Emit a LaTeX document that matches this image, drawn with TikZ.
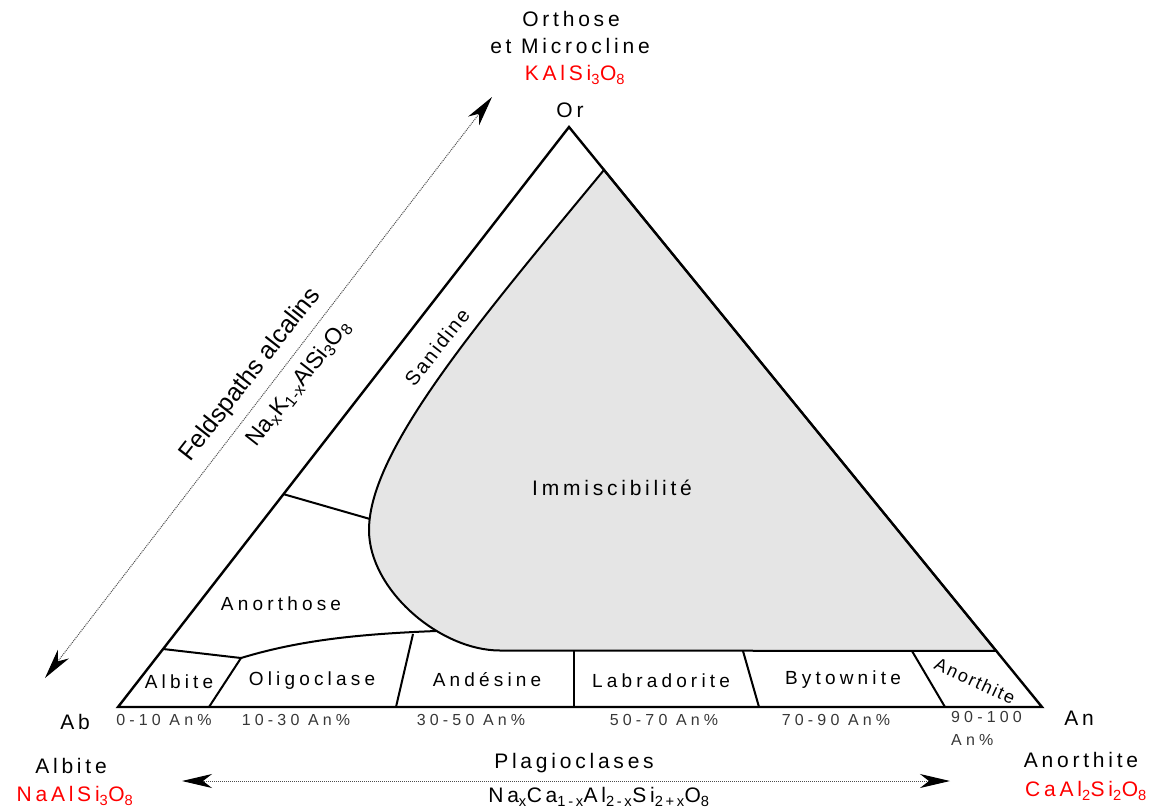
\documentclass[tikz,border=0pt]{standalone}
\usepackage{fontspec}
\setmainfont{Liberation Sans}
\newfontfamily\lsp[LetterSpace=18]{Liberation Sans}
\newfontfamily\lspc[LetterSpace=22]{Liberation Sans}
\newfontfamily\lspr[LetterSpace=26]{Liberation Sans}
\newfontfamily\lspb[LetterSpace=10]{Liberation Sans}
\usetikzlibrary{arrows.meta,calc}
\definecolor{fred}{RGB}{255,0,0}
\definecolor{fillgray}{RGB}{229,229,229}
\definecolor{rngc}{RGB}{55,55,55}
\newcommand\sbs[1]{\textsubscript{#1}}
\begin{document}
\begin{tikzpicture}[x=1pt,y=-1pt,
  edge/.style={line width=2.4pt, line join=miter},
  div/.style={line width=2pt},
  big/.style={font=\lsp\fontsize{21}{27}\selectfont, inner sep=0pt, align=center},
  cell/.style={font=\lspc\fontsize{19}{22}\selectfont, inner sep=0pt},
  rng/.style={font=\lspr\fontsize{16}{23}\selectfont, text=rngc, inner sep=0pt},
  dots/.style={line width=1pt, dash pattern=on 1pt off 1pt, draw=black!70},
  arr/.style={dots, {Stealth[length=30pt,width=14pt,inset=9pt,color=black]}-{Stealth[length=30pt,width=14pt,inset=9pt,color=black]}}
]
\useasboundingbox (0,0) rectangle (1163,807);

% vertices
\coordinate (Ab) at (118,707);
\coordinate (An) at (1042,707);
\coordinate (Or) at (569,127);
\coordinate (gT) at ($(An)!0.926!(Or)$);
\coordinate (gR) at ($(An)!0.0966!(Or)$);
\coordinate (gB) at (500,650.5);
\coordinate (gL) at (369,530);
\coordinate (lA) at ($(Ab)!0.1!(Or)$);
\coordinate (lS) at ($(Ab)!0.367!(Or)$);
\coordinate (kA) at (241,658);
\coordinate (kO) at (436,631);

% immiscibility region
\filldraw[fill=fillgray, div] (gT) -- (gR) -- (gB)
  .. controls (440,650.5) and (369,590) .. (gL)
  .. controls (369,450) and (480,320) .. (gT) -- cycle;

% region boundaries
\draw[div] (lA) -- (kA) .. controls (300,640) and (360,634) .. (kO);
\draw[div] (lS) -- (370,519);
\draw[div] (kA) -- (209,707);
\draw[div] (413,634) -- (396,707);
\draw[div] (574,650.5) -- (574,707);
\draw[div] (743,651) -- (759,707);
\draw[div] (912,651) -- (945,707);

% triangle
\draw[edge] (Ab) -- (An) -- (Or) -- cycle;

% arrows
\coordinate (fa1) at (45,678);
\coordinate (fa2) at (492,97);
\draw[arr] (fa1) -- (fa2);
\coordinate (pa1) at (182,781);
\coordinate (pa2) at (950,781);
\draw[arr] (pa1) -- (pa2);

% top labels
\node[big] (orth) at (571,19) {Orthose};
\node[big] (micr) at (570,46) {et Microcline};
\node[big, text=fred] (kals) at (575,75) {KAlSi\sbs{3}O\sbs{8}};
\node[big] (orl) at (570,110) {Or};

% corner labels
\node[big] (abl) at (75,722) {Ab};
\node[big] (anl) at (1079,718) {An};
\node[big] (albt) at (71,766) {Albite};
\node[big, text=fred] (naal) at (75,796) {NaAlSi\sbs{3}O\sbs{8}};
\node[big] (anth) at (1081,760) {Anorthite};
\node[big, text=fred] (caal) at (1086,791) {CaAl\sbs{2}Si\sbs{2}O\sbs{8}};

% alkali feldspars (two lines, one node)
\node[font=\fontsize{25}{43}\selectfont, inner sep=0pt, align=center, rotate=52] (feld) at (267,388)
  {Feldspaths alcalins\\{\fontsize{23}{43}\selectfont\hspace*{47pt}Na\sbs{x}K\sbs{1-x}AlSi\sbs{3}O\sbs{8}}};

% plagioclases
\node[big] (plag) at (574,763) {Plagioclases};
\node[big] (plagf) at (599,797) {Na\sbs{x}Ca\sbs{1-x}Al\sbs{2-x}Si\sbs{2+x}O\sbs{8}};

% regions
\node[big] (imm) at (612,488) {Immiscibilité};
\node[font=\lspb\fontsize{20}{24}\selectfont, inner sep=0pt, rotate=52] (sani) at (437,347) {Sanidine};
\node[cell] (anoh) at (281,604) {Anorthose};
\node[cell] (c1) at (179,682) {Albite};
\node[cell] (c2) at (312,681) {Oligoclase};
\node[cell] (c3) at (487,680) {Andésine};
\node[cell] (c4) at (661,681) {Labradorite};
\node[cell] (c5) at (843,680) {Bytownite};
\node[font=\lspb\fontsize{18}{22}\selectfont, inner sep=0pt, rotate=-25] (c6) at (975,681) {Anorthite};

% ranges
\node[rng] (r1) at (164,720) {0-10 An\%};
\node[rng] (r2) at (296,720) {10-30 An\%};
\node[rng] (r3) at (471,720) {30-50 An\%};
\node[rng] (r4) at (664,720) {50-70 An\%};
\node[rng] (r5) at (836,720) {70-90 An\%};
\node[rng, anchor=north west, align=left] (r6) at (951,711) {90-100\\An\%};
\end{tikzpicture}
\end{document}
